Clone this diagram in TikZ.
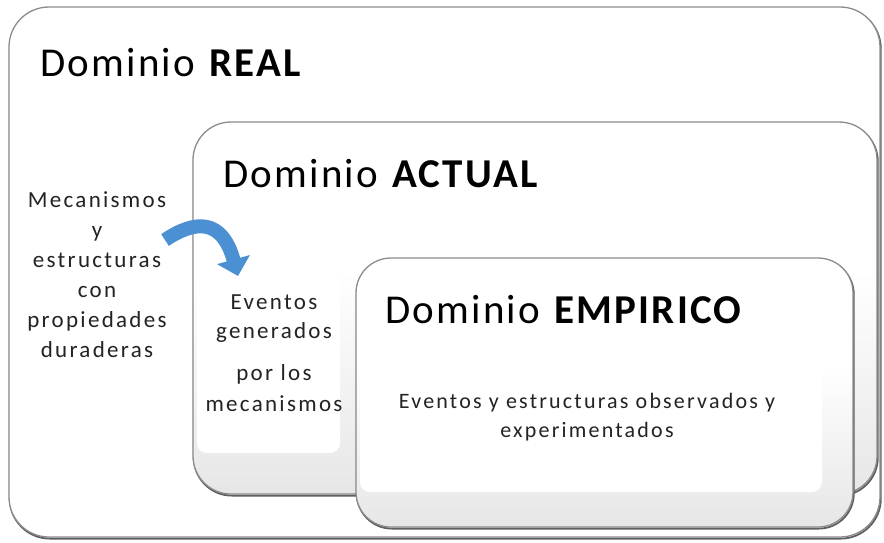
\documentclass[tikz,border=0pt]{standalone}
\usepackage{fontspec}
\setmainfont{Carlito}
\newfontfamily\spacedfont[LetterSpace=10]{Carlito}
\newfontfamily\titlefont[LetterSpace=5.5]{Carlito}
\usetikzlibrary{arrows.meta}
\definecolor{arrowblue}{RGB}{74,144,210}
\definecolor{edgegray}{RGB}{140,140,140}
\definecolor{shadowgray}{RGB}{95,95,95}
\definecolor{bodytext}{RGB}{35,35,35}
\pgfdeclareverticalshading{boxshade}{100bp}{color(0bp)=(gray!36); color(30bp)=(gray!16); color(55bp)=(white); color(100bp)=(white)}
\begin{document}
\begin{tikzpicture}[x=1pt,y=-1pt,
  domainbox/.style={draw=edgegray, line width=1.3pt},
  boxshadow/.style={draw=shadowgray, line width=1.8pt},
  panel/.style={fill=white, rounded corners=10pt},
  title/.style={font=\titlefont\fontsize{41}{49}\selectfont, anchor=base west, inner sep=0pt, text=black},
  body/.style={font=\spacedfont\fontsize{23}{30}\selectfont, text=bodytext, anchor=base, inner sep=0pt},
  bodysmall/.style={body, font=\spacedfont\fontsize{22}{30}\selectfont},
]
\useasboundingbox (0,0) rectangle (884,543);
\fill[white] (0,0) rectangle (884,543);

% Dominio REAL
\draw[boxshadow, rounded corners=40pt] (9.8,8.6) rectangle (880.8,538.6);
\draw[domainbox, rounded corners=40pt, fill=white] (9,7) rectangle (880,537);

% Dominio ACTUAL
\draw[boxshadow, rounded corners=38pt] (193.8,123.6) rectangle (877.8,495.6);
\draw[domainbox, rounded corners=38pt, shading=boxshade] (193,122) rectangle (877,494);
\fill[panel] (197,250) rectangle (340,453);

% Dominio EMPIRICO
\draw[boxshadow, rounded corners=35pt] (356.8,259.6) rectangle (853.8,528.6);
\draw[domainbox, rounded corners=35pt, shading=boxshade] (356,258) rectangle (853,527);
\fill[panel] (360,340) rectangle (822,492);

% titles
\node[title] (realtitle) at (40,77) {Dominio \textbf{REAL}};
\node[title] (actualtitle) at (223,187) {Dominio \textbf{ACTUAL}};
\node[title] (empiricotitle) at (385,323) {Dominio \textbf{EMPIRICO}};

% left text
\node[body] (m1) at (97,207) {Mecanismos};
\node[body] (m2) at (97,237) {y};
\node[body] (m3) at (97,267) {estructuras};
\node[body] (m4) at (97,297) {con};
\node[body] (m5) at (97,327) {propiedades};
\node[body] (m6) at (97,357) {duraderas};

% actual text
\node[body] (e1) at (274,309) {Eventos};
\node[body] (e2) at (274,338) {generados};
\node[body] (e3) at (274,380) {por los};
\node[body] (e4) at (274,411) {mecanismos};

% empirico text
\node[bodysmall] (o1) at (587,408) {Eventos y estructuras observados y};
\node[bodysmall] (o2) at (587,437) {experimentados};

% arrow
\coordinate (arrowstart) at (165,240);
\coordinate (arrowend) at (238,276);
\draw[arrowblue, line width=14pt, -{Triangle[width=33pt,length=17pt]}]
  (arrowstart) .. controls (195,220) and (222,218) .. (arrowend);
\end{tikzpicture}
\end{document}
